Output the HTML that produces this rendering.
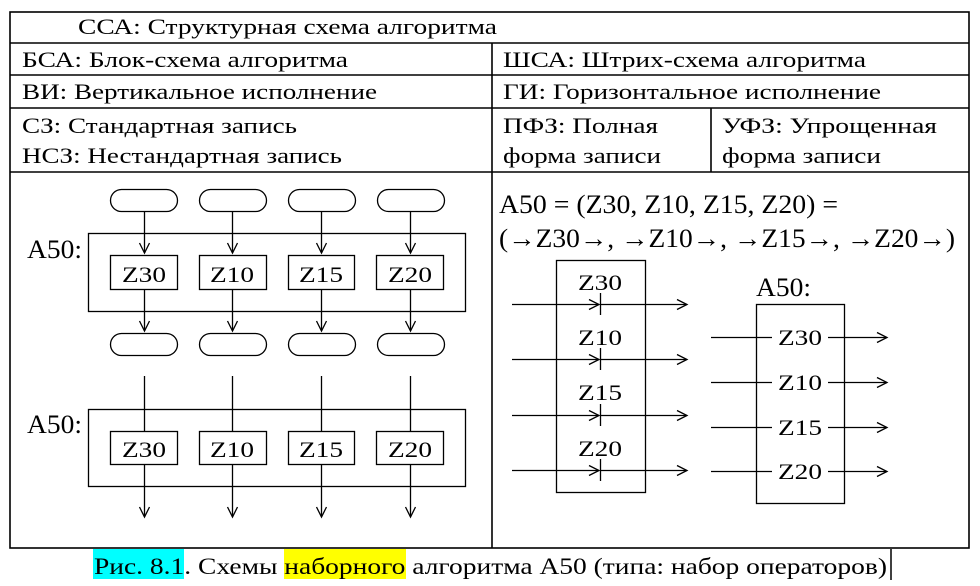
<!DOCTYPE html>
<html><head><meta charset="utf-8"><style>
html,body{margin:0;padding:0;background:#fff;}
svg{display:block;}
text{font-family:"Liberation Serif","Times New Roman","DejaVu Serif",serif;font-size:22px;fill:#000;}
.z{font-size:26px;}
</style></head><body>
<svg width="980" height="586" viewBox="0 0 980 586" xmlns="http://www.w3.org/2000/svg">
<defs>
<marker id="a" markerWidth="14" markerHeight="12" refX="11" refY="6" orient="auto" markerUnits="userSpaceOnUse">
<path d="M1,1 L11,6 L1,11" fill="none" stroke="#000" stroke-width="1.3"/>
</marker>
</defs>
<g stroke="#000" stroke-width="1.6" fill="none">
<rect x="10" y="12" width="959" height="536"/>
<line x1="10" y1="43" x2="969" y2="43"/>
<line x1="10" y1="75" x2="969" y2="75"/>
<line x1="10" y1="108" x2="969" y2="108"/>
<line x1="10" y1="172" x2="969" y2="172"/>
<line x1="492" y1="43" x2="492" y2="548"/>
<line x1="711" y1="108" x2="711" y2="172"/>
</g>
<text x="78" y="34" textLength="419" lengthAdjust="spacingAndGlyphs">ССА: Структурная схема алгоритма</text>
<text x="22" y="67" textLength="326" lengthAdjust="spacingAndGlyphs">БСА: Блок-схема алгоритма</text>
<text x="503" y="67" textLength="363" lengthAdjust="spacingAndGlyphs">ШСА: Штрих-схема алгоритма</text>
<text x="22" y="99" textLength="355" lengthAdjust="spacingAndGlyphs">ВИ: Вертикальное исполнение</text>
<text x="503" y="99" textLength="378" lengthAdjust="spacingAndGlyphs">ГИ: Горизонтальное исполнение</text>
<text x="22" y="133" textLength="275" lengthAdjust="spacingAndGlyphs">СЗ: Стандартная запись</text>
<text x="22" y="163" textLength="320" lengthAdjust="spacingAndGlyphs">НСЗ: Нестандартная запись</text>
<text x="503" y="133" textLength="155" lengthAdjust="spacingAndGlyphs">ПФЗ: Полная</text>
<text x="503" y="163" textLength="158" lengthAdjust="spacingAndGlyphs">форма записи</text>
<text x="722" y="133" textLength="215" lengthAdjust="spacingAndGlyphs">УФЗ: Упрощенная</text>
<text x="722" y="163" textLength="159" lengthAdjust="spacingAndGlyphs">форма записи</text>

<g stroke="#000" stroke-width="1.3" fill="none">
<rect x="110.5" y="189.5" width="67" height="22" rx="11"/>
<rect x="199.5" y="189.5" width="67" height="22" rx="11"/>
<rect x="288.5" y="189.5" width="67" height="22" rx="11"/>
<rect x="377.5" y="189.5" width="67" height="22" rx="11"/>
<rect x="110.5" y="333.5" width="67" height="22" rx="11"/>
<rect x="199.5" y="333.5" width="67" height="22" rx="11"/>
<rect x="288.5" y="333.5" width="67" height="22" rx="11"/>
<rect x="377.5" y="333.5" width="67" height="22" rx="11"/>
<rect x="88.5" y="233.5" width="377" height="78"/>
<rect x="88.5" y="409.5" width="377" height="77"/>
<rect x="110.5" y="255.5" width="67" height="34"/>
<rect x="199.5" y="255.5" width="67" height="34"/>
<rect x="288.5" y="255.5" width="66" height="34"/>
<rect x="376.5" y="255.5" width="67" height="34"/>
<rect x="110.5" y="431.5" width="67" height="33"/>
<rect x="199.5" y="431.5" width="67" height="33"/>
<rect x="288.5" y="431.5" width="66" height="33"/>
<rect x="376.5" y="431.5" width="67" height="33"/>
<g marker-end="url(#a)">
<line x1="144.5" y1="211" x2="144.5" y2="253"/><line x1="232.5" y1="211" x2="232.5" y2="253"/>
<line x1="321.5" y1="211" x2="321.5" y2="253"/><line x1="410.5" y1="211" x2="410.5" y2="253"/>
<line x1="144.5" y1="290" x2="144.5" y2="331"/><line x1="232.5" y1="290" x2="232.5" y2="331"/>
<line x1="321.5" y1="290" x2="321.5" y2="331"/><line x1="410.5" y1="290" x2="410.5" y2="331"/>
<line x1="144.5" y1="465" x2="144.5" y2="517"/><line x1="232.5" y1="465" x2="232.5" y2="517"/>
<line x1="321.5" y1="465" x2="321.5" y2="517"/><line x1="410.5" y1="465" x2="410.5" y2="517"/>
</g>
<line x1="144.5" y1="376" x2="144.5" y2="431"/><line x1="232.5" y1="376" x2="232.5" y2="431"/>
<line x1="321.5" y1="376" x2="321.5" y2="431"/><line x1="410.5" y1="376" x2="410.5" y2="431"/>
</g>
<text class="z" x="27" y="258" textLength="55" lengthAdjust="spacingAndGlyphs">A50:</text>
<text class="z" x="27" y="433" textLength="55" lengthAdjust="spacingAndGlyphs">A50:</text>
<g class="z">
<text x="122" y="282" textLength="44" lengthAdjust="spacingAndGlyphs">Z30</text>
<text x="210" y="282" textLength="44" lengthAdjust="spacingAndGlyphs">Z10</text>
<text x="299" y="282" textLength="44" lengthAdjust="spacingAndGlyphs">Z15</text>
<text x="388" y="282" textLength="44" lengthAdjust="spacingAndGlyphs">Z20</text>
<text x="122" y="457" textLength="44" lengthAdjust="spacingAndGlyphs">Z30</text>
<text x="210" y="457" textLength="44" lengthAdjust="spacingAndGlyphs">Z10</text>
<text x="299" y="457" textLength="44" lengthAdjust="spacingAndGlyphs">Z15</text>
<text x="388" y="457" textLength="44" lengthAdjust="spacingAndGlyphs">Z20</text>
</g>

<text class="z" x="499" y="213" textLength="339" lengthAdjust="spacingAndGlyphs">A50 = (Z30, Z10, Z15, Z20) =</text>
<text class="z" x="499" y="247" textLength="456" lengthAdjust="spacingAndGlyphs">(→Z30→, →Z10→, →Z15→, →Z20→)</text>
<g stroke="#000" stroke-width="1.3" fill="none">
<rect x="556.5" y="260.5" width="89" height="232"/>
<rect x="756.5" y="304.5" width="88" height="199"/>
<g marker-end="url(#a)">
<line x1="512" y1="304.5" x2="599" y2="304.5"/><line x1="600" y1="304.5" x2="687" y2="304.5"/>
<line x1="512" y1="359.5" x2="599" y2="359.5"/><line x1="600" y1="359.5" x2="687" y2="359.5"/>
<line x1="512" y1="415.5" x2="599" y2="415.5"/><line x1="600" y1="415.5" x2="687" y2="415.5"/>
<line x1="512" y1="470.5" x2="599" y2="470.5"/><line x1="600" y1="470.5" x2="687" y2="470.5"/>
<line x1="828" y1="337.5" x2="887" y2="337.5"/>
<line x1="828" y1="382.5" x2="887" y2="382.5"/>
<line x1="828" y1="427.5" x2="887" y2="427.5"/>
<line x1="828" y1="471.5" x2="887" y2="471.5"/>
</g>
<line x1="600.5" y1="293" x2="600.5" y2="315"/>
<line x1="600.5" y1="348" x2="600.5" y2="370"/>
<line x1="600.5" y1="404" x2="600.5" y2="426"/>
<line x1="600.5" y1="459" x2="600.5" y2="481"/>
<line x1="711" y1="337.5" x2="772" y2="337.5"/>
<line x1="711" y1="382.5" x2="772" y2="382.5"/>
<line x1="711" y1="427.5" x2="772" y2="427.5"/>
<line x1="711" y1="471.5" x2="772" y2="471.5"/>
</g>
<g class="z">
<text x="578" y="290" textLength="44" lengthAdjust="spacingAndGlyphs">Z30</text>
<text x="578" y="345" textLength="44" lengthAdjust="spacingAndGlyphs">Z10</text>
<text x="578" y="400" textLength="44" lengthAdjust="spacingAndGlyphs">Z15</text>
<text x="578" y="456" textLength="44" lengthAdjust="spacingAndGlyphs">Z20</text>
<text x="778" y="345" textLength="44" lengthAdjust="spacingAndGlyphs">Z30</text>
<text x="778" y="390" textLength="44" lengthAdjust="spacingAndGlyphs">Z10</text>
<text x="778" y="435" textLength="44" lengthAdjust="spacingAndGlyphs">Z15</text>
<text x="778" y="479" textLength="44" lengthAdjust="spacingAndGlyphs">Z20</text>
</g>
<text class="z" x="756" y="296" textLength="55" lengthAdjust="spacingAndGlyphs">A50:</text>

<rect x="93" y="549" width="91" height="30" fill="#00ffff"/>
<rect x="284" y="549" width="122" height="30" fill="#ffff00"/>
<text x="94" y="574" style="font-size:23px" textLength="793" lengthAdjust="spacingAndGlyphs">Рис. 8.1. Схемы наборного алгоритма A50 (типа: набор операторов)</text>
<line x1="891" y1="549" x2="891" y2="580" stroke="#000" stroke-width="1.5"/>
</svg>
</body></html>
